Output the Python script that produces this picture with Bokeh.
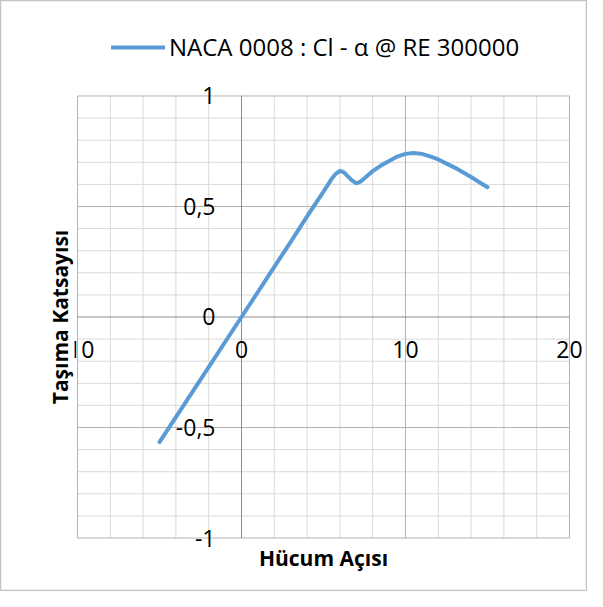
import numpy as np
from bokeh.plotting import figure
from bokeh.models import Range1d, Label, Legend, LegendItem
from bokeh.core.properties import value
from bokeh.embed import file_html
from bokeh.resources import INLINE

# ---- data ----
alpha = [-5, -4, -3, -2, -1, 0, 1, 2, 3, 4, 5, 5.5, 5.75, 6, 6.25, 6.5, 6.75, 7, 7.25, 7.5,
         8, 8.5, 9, 9.5, 10, 10.5, 11, 11.5, 12, 12.5, 13, 13.5, 14, 14.5, 15]
cl = [-0.566, -0.453, -0.34, -0.227, -0.113, 0.0, 0.113, 0.227, 0.34, 0.455, 0.567, 0.625, 0.648,
      0.661, 0.654, 0.635, 0.617, 0.605, 0.612, 0.628,
      0.66, 0.685, 0.706, 0.726, 0.738, 0.742, 0.738, 0.727, 0.713, 0.694, 0.676, 0.655, 0.633,
      0.61, 0.587]
series_name = "NACA 0008 : Cl - α @ RE 300000"

x_ticks = [-10, 0, 10, 20]
x_tick_labels = ["-10", "0", "10", "20"]
y_ticks = [-1, -0.5, 0, 0.5, 1]
y_tick_labels = ["-1", "-0,5", "0", "0,5", "1"]
x_minor_step = 2
y_minor_step = 0.1
x_title = "Hücum Açısı"
y_title = "Taşıma Katsayısı"

FONT = "Open Sans"
W, H = 587, 591

p = figure(width=W, height=H, output_backend="svg", toolbar_location=None,
           x_range=Range1d(-14.695, 21.098), y_range=Range1d(-1.242, 1.432),
           min_border=0, min_border_left=0, min_border_right=0,
           min_border_top=0, min_border_bottom=0)
p.axis.visible = False
p.xgrid.visible = False
p.ygrid.visible = False
p.outline_line_color = "#c4c4c4"
p.outline_line_width = 1.5
p.background_fill_color = "white"
p.border_fill_color = "white"

xmin, xmax = x_ticks[0], x_ticks[-1]
ymin, ymax = y_ticks[0], y_ticks[-1]

# minor grid
xm = [v for v in np.arange(xmin, xmax + 1e-9, x_minor_step) if v not in x_ticks]
ym = [v for v in np.round(np.arange(ymin, ymax + 1e-9, y_minor_step), 3) if v not in y_ticks]
p.segment(x0=xm, y0=ymin, x1=xm, y1=ymax, line_color="#d9d9d9", line_width=1)
p.segment(x0=xmin, y0=ym, x1=xmax, y1=ym, line_color="#d9d9d9", line_width=1)
# major grid
xM = [v for v in x_ticks if v != 0]
yM = [v for v in y_ticks if v != 0]
p.segment(x0=xM, y0=ymin, x1=xM, y1=ymax, line_color="#b3b3b3", line_width=1)
p.segment(x0=xmin, y0=yM, x1=xmax, y1=yM, line_color="#b3b3b3", line_width=1)
# axes through zero
p.segment(x0=[0], y0=[ymin], x1=[0], y1=[ymax], line_color="#8c8c8c", line_width=1)
p.segment(x0=[xmin], y0=[0], x1=[xmax], y1=[0], line_color="#8c8c8c", line_width=1)

# series
r = p.line(alpha, cl, line_color="#5B9BD5", line_width=4, line_join="round", line_cap="round")

# tick labels
p.text(x=x_ticks, y=[0] * len(x_ticks), text=x_tick_labels, y_offset=24,
       text_align="center", text_baseline="top", text_font=value(FONT),
       text_font_size="23px", text_color="#000000")
p.text(x=[0] * len(y_ticks), y=y_ticks, text=y_tick_labels, x_offset=-26,
       text_align="right", text_baseline="middle", text_font=value(FONT),
       text_font_size="23px", text_color="#000000")

# axis titles
p.add_layout(Label(x=(xmin + xmax) / 2, y=ymin, y_offset=-20, text=x_title,
                   text_align="center", text_baseline="middle", text_font=FONT,
                   text_font_size="21px", text_font_style="bold", text_color="#000000"))
p.add_layout(Label(x=xmin, y=(ymin + ymax) / 2, x_offset=-17, text=y_title, angle=np.pi / 2,
                   text_align="center", text_baseline="middle", text_font=FONT,
                   text_font_size="21px", text_font_style="bold", text_color="#000000",
                   background_fill_color="white"))

# legend
legend = Legend(items=[LegendItem(label=series_name, renderers=[r])],
                location=(111, 528), orientation="horizontal",
                glyph_width=54, glyph_height=30, label_height=30, label_standoff=4,
                padding=0, margin=0, spacing=0,
                label_text_font=FONT, label_text_font_size="24px", label_text_color="#000000",
                border_line_alpha=0, background_fill_alpha=0)
p.add_layout(legend)

open("out.html", "w").write(file_html(p, INLINE))
